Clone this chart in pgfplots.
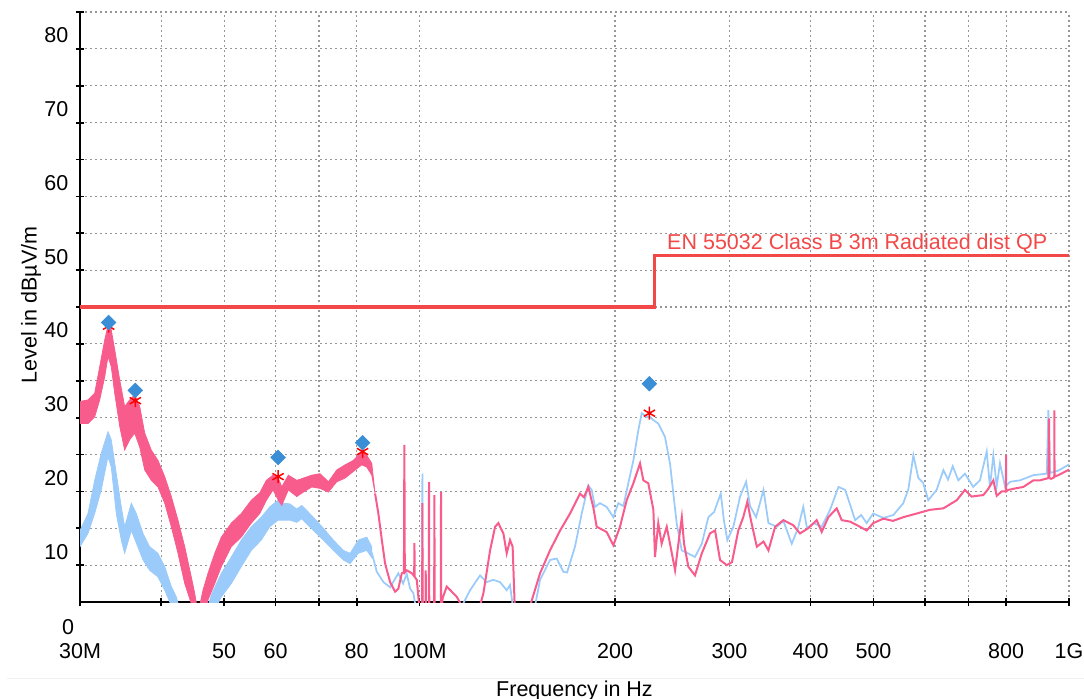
\documentclass[border=0pt]{standalone}
\usepackage{fontspec}
\setmainfont{Liberation Sans}
\usepackage{pgfplots}
\pgfplotsset{compat=1.18}
\definecolor{tracepink}{RGB}{248,92,140}
\definecolor{traceblue}{RGB}{155,203,250}
\definecolor{limitred}{RGB}{242,72,72}
\definecolor{peakblue}{RGB}{58,142,214}
\definecolor{gridgray}{RGB}{150,150,150}

\begin{document}
\begin{tikzpicture}[font=\fontsize{8.6}{10.3}\selectfont]
\useasboundingbox (-32pt,-38.4pt) rectangle (401.6pt,240.8pt);
\begin{axis}[
  at={(0pt,0pt)}, anchor=south west,
  scale only axis, width=395.6pt, height=236pt,
  xmode=log, log basis x=10,
  xmin=30, xmax=1000, ymin=5, ymax=85,
  axis lines=left, axis line style={-, black, line width=0.9pt},
  xtick={30,40,50,60,70,80,100,200,300,400,500,600,700,800,1000},
  xticklabels={30M,,50,60,,80,100M,200,300,400,500,,,800,1G},
  ytick={10,20,...,80},
  minor ytick={15,25,...,85},
  xminorticks=false,
  grid=both,
  major grid style={gridgray, line width=0.45pt, dash pattern=on 0.7pt off 1.3pt},
  minor grid style={gridgray, line width=0.45pt, dash pattern=on 0.7pt off 1.3pt},
  tick align=center, major tick length=3.4pt, minor tick length=3.4pt,
  tick style={black, line width=0.7pt},
  /pgf/number format/assume math mode=true,
  xticklabel style={anchor=base, inner sep=0pt, yshift=-20.9pt},
  yticklabel style={anchor=base east, inner sep=0pt, xshift=-2.8pt, yshift=2.4pt},
]

% average trace, noisy band below 85 MHz
\addplot[draw=traceblue, fill=traceblue, line width=0.3pt] coordinates {
(30.0,14.7)(30.86,17.0)(31.6,21.5)(32.35,25.2)(33.13,28.1)(33.52,27.0)(34.12,22.4)(34.73,17.9)
(35.15,15.2)(35.99,18.4)(36.63,17.0)(37.51,14.3)(38.41,12.5)(39.56,11.6)(40.51,9.8)(41.47,7.1)
(42.21,5.7)(43.07,3)(46.74,3)(47.79,6.0)(49.52,8.9)(51.30,11.1)(53.15,13.4)(55.07,15.2)
(57.06,16.5)(58.79,17.9)(60.55,18.8)(61.70,18.4)(63.18,18.3)(64.70,17.6)(65.84,18.1)(68.62,16.5)
(71.10,15.0)(73.67,13.4)(76.33,12.0)(78.16,11.6)(80.48,13.4)(82.92,13.8)(84.41,12.5)
(84.41,11.0)(82.92,12.0)(80.48,11.6)(78.16,10.2)(76.33,10.7)(73.67,12.0)(71.10,13.4)(68.62,14.7)
(65.84,16.3)(64.70,15.8)(63.18,16.1)(61.70,16.1)(60.55,16.1)(58.79,15.2)(57.06,13.4)(55.07,12.0)
(53.15,9.8)(51.30,7.5)(49.52,5.7)(47.79,3)(42.21,3)(41.47,4.5)(40.51,6.6)(39.56,8.4)
(38.41,9.3)(37.51,10.7)(36.63,13.0)(35.99,14.7)(35.15,11.6)(34.73,13.4)(34.12,17.0)(33.52,23.3)
(33.13,24.7)(32.35,20.2)(31.6,17.0)(30.86,14.3)(30.0,12.5)
} -- cycle;
\addplot[traceblue, line width=0.7pt] coordinates {
(84.41,11.7)(85.92,9.1)(87.97,7.7)(90.08,7.0)(92.75,8.9)(94.32,7.5)(95.56,8.8)(96.70,6.8)
(97.82,6.2)(98.77,4)(100.9,4)(101.0,22.4)(101.1,4)(107.5,3)(115.5,4)(119.6,6.6)(123.9,8.6)
(126.8,7.7)(129.8,8.0)(133.0,7.7)(136.2,6.6)(137.8,7.3)(139.4,4)(148.0,3)(150.6,4.5)(153.3,8.0)
(158.8,10.7)(162.6,10.9)(166.5,9.1)(168.7,9.0)(173.5,12.5)(177.7,17.0)(181.9,20.8)(184.1,20.2)
(186.3,17.9)(189.6,18.4)(194.1,17.9)(198.8,16.5)(202.3,18.4)(206.0,18.0)(209.6,21.1)(213.4,24.2)
(217.2,28.3)(219.8,30.6)(223.8,30.1)(226.4,30.1)(228.8,29.7)(233.1,29.2)(238.7,27.4)(243.0,23.8)
(245.9,19.7)(248.9,15.6)(253.3,12.0)(259.0,11.6)(265.5,11.1)(272.0,12.9)(278.4,16.5)(284.1,17.2)
(290.9,19.7)(294.3,16.0)(297.8,13.4)(304.2,15.2)(311.5,19.3)(318.3,21.3)(322.8,18.0)(329.8,16.5)
(338.5,20.2)(344.5,15.7)(354.8,15.2)(363.3,16.0)(374.2,12.9)(382.6,15.0)(389.8,17.9)(395.0,15.0)
(404.2,15.7)(416.1,15.2)(428.6,17.5)(441.6,20.6)(452.2,20.2)(462.9,17.5)(468.5,16.1)(478.6,16.8)
(488.0,15.7)(499.5,17.0)(517.8,16.4)(536.5,16.8)(555.7,18.4)(565.8,20.3)(575.9,24.9)(586.2,21.8)
(596.0,21.2)(607.1,18.8)(625.5,20.2)(640.5,22.9)(651.2,21.6)(662.2,23.4)(675.4,21.5)(691.5,22.4)
(712.1,20.6)(729.3,21.5)(747.0,25.4)(755.6,20.6)(764.8,24.9)(774.0,20.7)(782.9,23.8)(797.5,20.6)
(811.1,21.3)(840.4,21.5)(881.4,22.2)(924.1,22.4)(929.4,31.0)(934.7,22.5)(961.8,22.8)(997.7,23.6)
(1000,23.6)
};

% peak trace, noisy band below 85 MHz
\addplot[draw=tracepink, fill=tracepink, line width=0.3pt] coordinates {
(30.0,32.2)(30.86,32.4)(31.6,33.3)(32.17,36.9)(32.74,40.5)(33.13,42.5)(33.52,41.9)(33.93,39.2)
(34.54,35.1)(35.15,31.5)(35.78,32.4)(36.42,33.1)(37.08,31.5)(37.74,27.9)(38.63,25.6)(39.56,24.2)
(40.51,22.0)(41.47,19.3)(42.46,16.1)(43.49,12.5)(44.51,8.4)(45.05,6.2)(45.59,3.5)(46.40,6.6)
(47.23,8.9)(48.37,11.6)(49.52,13.8)(51.30,15.7)(53.15,17.0)(55.07,18.8)(56.74,19.8)(58.09,21.5)
(59.48,22.2)(60.61,21.8)(61.34,20.6)(62.80,22.2)(64.70,21.5)(66.23,21.8)(68.23,22.2)(70.27,22.4)
(72.38,21.3)(74.55,22.9)(76.79,23.6)(79.09,24.2)(81.46,25.4)(82.92,24.9)(84.41,23.8)(85.41,19.7)
(84.41,22.2)(82.92,23.3)(81.46,23.6)(79.09,22.7)(76.79,21.8)(74.55,21.3)(72.38,19.9)(70.27,20.4)
(68.23,20.6)(66.23,19.9)(64.70,19.3)(62.80,20.2)(61.34,18.1)(60.61,18.8)(59.48,20.2)(58.09,18.8)
(56.74,17.0)(55.07,15.7)(53.15,13.8)(51.30,12.5)(49.52,9.8)(48.37,7.5)(47.23,5.3)(46.40,2)
(45.05,2)(44.51,4.8)(43.49,7.5)(42.46,11.6)(41.47,15.2)(40.51,18.4)(39.56,20.6)(38.63,21.5)
(37.74,22.9)(37.08,26.0)(36.42,27.9)(35.78,27.0)(35.15,25.6)(34.54,28.8)(33.93,33.3)(33.52,36.9)
(33.13,38.3)(32.74,35.5)(32.17,32.4)(31.6,30.1)(30.86,29.2)(30.0,29.2)
} -- cycle;
\addplot[tracepink, line width=0.8pt] coordinates {
(85.41,19.7)(86.41,17.0)(87.47,13.4)(88.50,10.2)(90.08,7.7)(91.69,6.4)(92.75,6.8)(93.89,8.9)
(94.6,9.0)(94.75,26.3)(94.9,9.0)(95.56,9.3)(97.28,8.9)(98.1,8.5)(98.19,13.0)(98.3,8.4)(99.02,8.0)
(100.2,3)(100.9,3)(101.0,18.4)(101.1,3)(102.1,3)(102.2,9.3)(102.3,3)(103.3,3)(103.4,21.3)(103.5,3)
(105.3,3)(105.4,19.5)(105.5,3)(107.8,3)(107.9,19.9)(108.0,3)(108.5,5.5)(110.1,7.1)(111.8,6.5)
(114.1,5.7)(116.1,4.5)(121.8,3)(123.9,4.5)(125.4,6.2)(128.4,12.0)(130.7,15.2)(132.2,15.7)
(134.6,14.3)(136.2,11.6)(137.8,13.4)(139.1,12.5)(140.3,3)(145.3,3)(148.0,4.5)(153.3,8.9)
(158.8,12.0)(164.6,14.7)(170.5,17.0)(176.6,19.7)(179.1,19.2)(181.9,20.6)(185.1,17.9)(187.4,15.2)
(194.1,14.5)(198.8,12.7)(203.5,15.2)(208.4,18.8)(213.4,21.1)(218.5,23.8)(221.1,21.5)(225.0,21.1)
(229.1,17.5)(230.4,11.1)(233.1,15.7)(235.9,12.9)(240.2,15.2)(243.0,12.9)(247.4,9.3)(250.3,12.9)
(253.4,16.5)(255.4,12.9)(259.3,9.8)(265.5,8.6)(272.0,11.6)(280.0,14.3)(285.1,14.7)(290.2,10.7)
(297.1,10.0)(302.7,10.4)(309.6,14.7)(315.1,16.5)(319.7,18.6)(323.9,16.0)(330.6,12.5)(338.5,13.2)
(344.5,12.0)(352.8,15.2)(363.3,16.1)(376.4,15.4)(385.3,14.3)(396.8,15.0)(408.8,16.1)(416.1,14.5)
(426.0,16.5)(438.8,17.7)(446.7,16.1)(460.1,15.9)(476.6,15.2)(488.0,14.7)(499.5,15.7)(517.8,16.3)
(535.8,16.0)(555.7,16.5)(582.8,17.0)(610.9,17.5)(640.5,17.7)(671.6,18.8)(691.5,20.2)(708.0,19.3)
(738.1,19.5)(750.5,20.3)(764.8,21.5)(774.0,19.4)(787.9,20.0)(799.5,20.0)(800.0,24.9)(800.5,20.0)
(806.7,20.2)(825.9,20.4)(850.4,20.6)(881.4,21.5)(902.1,21.5)(929.4,21.8)(931.9,29.9)(933,21.8)
(938.3,21.7)(949.0,21.9)(949.3,31.0)(950,22)(962.8,22.2)(997.7,22.9)(1000,23.0)
};

% limit line
\addplot[limitred, line width=1.3pt] coordinates {(30,45)(230,45)(230,52)(1000,52)};

% final measurement markers
\addplot[only marks, mark=asterisk, mark size=2.6pt, red, mark options={line width=0.6pt}] coordinates {
(33.21,42.4)(36.5,32.3)(60.55,22.0)(81.7,25.4)(225.9,30.6)};
\addplot[only marks, mark=square*, mark size=2pt, peakblue, mark options={rotate=45}] coordinates {
(33.21,42.9)(36.5,33.7)(60.55,24.6)(81.7,26.6)(225.9,34.6)};

\node[anchor=base west, inner sep=0pt, text=limitred, yshift=2.4pt]
  at (axis cs:240.2,52) {EN 55032 Class B 3m Radiated dist QP};
\end{axis}

\draw[gray!12, line width=0.4pt] (-29.2pt,-30.4pt) -- (401.6pt,-30.4pt);
\node[anchor=base, inner sep=0pt] at (-4.8pt,-13pt) {0};
\node[anchor=base, inner sep=0pt] at (197.8pt,-37.6pt) {Frequency in Hz};
\node[rotate=90, inner sep=0pt] at (-19.6pt,118.8pt) {Level in dBµV/m};
\end{tikzpicture}
\end{document}
